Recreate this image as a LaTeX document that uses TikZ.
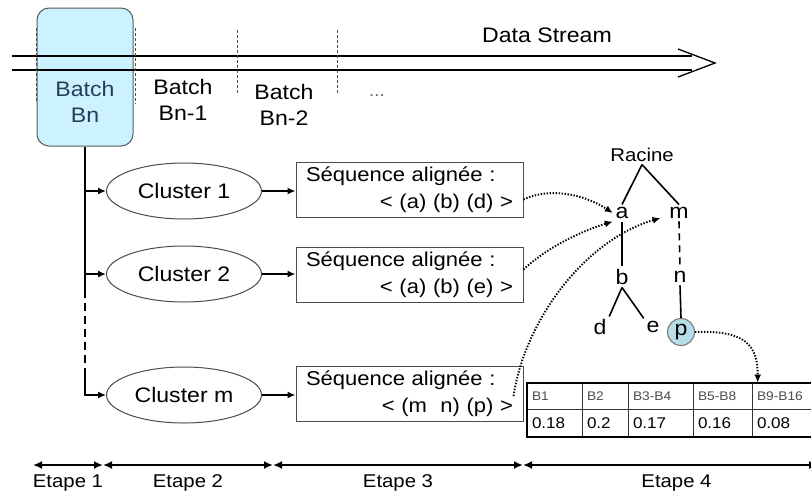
\documentclass[tikz,border=0pt]{standalone}
\usepackage{fontspec}
\setmainfont{Liberation Sans}[FakeStretch=1.1]
\usetikzlibrary{shapes.geometric,arrows.meta,positioning}
\definecolor{batchfill}{RGB}{204,242,255}
\definecolor{batchtext}{RGB}{38,62,92}
\definecolor{pfill}{RGB}{183,222,232}

\begin{document}
\begin{tikzpicture}[x=1pt,y=-1pt,line width=1.6pt,
  txt/.style={font=\fontsize{21}{26}\selectfont,align=center,inner sep=0pt},
  batchbox/.style={draw=black!65,line width=1pt,rounded corners=12pt,fill=batchfill,minimum width=96pt,minimum height=138pt},
  sep/.style={line width=0.7pt,black!70,dash pattern=on 3pt off 2pt},
  clus/.style={draw=black!70,line width=1pt,ellipse,minimum width=155pt,minimum height=56pt,font=\fontsize{21}{24}\selectfont},
  seqbox/.style={draw=black!70,line width=1pt,text width=207pt,minimum height=55pt,inner xsep=10pt,inner ysep=3pt,font=\fontsize{20}{27}\selectfont},
  leaf/.style={font=\fontsize{21}{24}\selectfont,inner sep=2pt},
  pnode/.style={circle,draw=black!55,line width=1pt,fill=pfill,minimum size=27pt,inner sep=0pt,font=\fontsize{21}{24}\selectfont},
  arr/.style={-{Latex[length=8pt,width=7pt]}},
  link/.style={line width=1.9pt,dash pattern=on 1.4pt off 1.6pt,-{Latex[length=8pt,width=7pt]}},
  hcell/.style={draw=black!80,line width=0.7pt,minimum height=26pt,inner xsep=5pt,inner ysep=0pt,font=\fontsize{12.5}{14}\selectfont,text=black!70},
  vcell/.style={draw=black!80,line width=0.7pt,minimum height=28pt,inner xsep=5pt,inner ysep=0pt,font=\fontsize{15.5}{18}\selectfont},
  stage/.style={line width=1.8pt,{Latex[length=9pt,width=8pt]}-{Latex[length=9pt,width=8pt]}},
  etape/.style={below=9pt,font=\fontsize{18.5}{22}\selectfont,inner sep=0pt}]
\useasboundingbox (0,0) rectangle (811,496);
\clip (0,0) rectangle (811,496);

% data stream
\node[batchbox] (bn) at (85,77) {};
\node[txt,text=batchtext] (bntxt) at (85,102) {Batch\\Bn};
\node[txt] (bn1) at (183,100) {Batch\\Bn-1};
\node[txt] (bn2) at (284,105) {Batch\\Bn-2};
\node[txt,font=\fontsize{17}{20}\selectfont,text=black!60] (dots) at (377,96) {...};
\node[txt] (stream) at (547,35) {Data Stream};
\draw[line width=1.3pt] (12,56) -- (692,56) (12,70) -- (692,70);
\draw[line width=1.3pt,line join=miter] (678,49) -- (715,63) -- (678,77);
\draw[sep] (36,28) -- (36,103);
\draw[sep] (135,28) -- (135,104);
\draw[sep] (237,30) -- (237,95);
\draw[sep] (337,30) -- (337,93);

% clusters
\node[clus] (c1) at (184,191) {Cluster 1};
\node[clus] (c2) at (184,274) {Cluster 2};
\node[clus] (c3) at (184,395) {Cluster m};
\node[seqbox] (s1) at (409.5,189.5) {Séquence alignée :\\\hspace*{\fill}< (a) (b) (d) >};
\node[seqbox] (s2) at (409.5,274.5) {Séquence alignée :\\\hspace*{\fill}< (a) (b) (e) >};
\node[seqbox] (s3) at (409.5,394) {Séquence alignée :\\\hspace*{\fill}< (m\ \ n) (p) >};
\coordinate (tA) at (85,290);
\coordinate (tB) at (85,370);
\draw (bn.south) -- (tA);
\draw[dash pattern=on 8pt off 5pt] (tA) -- (tB);
\draw[arr] (tB) |- (c3.west);
\draw[arr] (bn.south |- c1.west) -- (c1.west);
\draw[arr] (bn.south |- c2.west) -- (c2.west);
\draw[arr] (c1.east) -- (s1.west |- c1.east);
\draw[arr] (c2.east) -- (s2.west |- c2.east);
\draw[arr] (c3.east) -- (s3.west |- c3.east);

% tree
\node[leaf,font=\fontsize{18.5}{22}\selectfont] (root) at (642,155) {Racine};
\node[leaf] (na) at (622,213) {a};
\node[leaf] (nm) at (679,213) {m};
\node[leaf] (nb) at (622,277) {b};
\node[leaf] (nn) at (680,277) {n};
\node[leaf] (nd) at (600,327) {d};
\node[leaf] (ne) at (653,327) {e};
\node[pnode] (np) at (681,332) {p};
\draw (root.south) -- (na.north);
\draw (root.south) -- (nm.north);
\draw (na.south) -- (nb.north);
\draw[dash pattern=on 7pt off 5pt] (nm.south) -- (nn.north);
\draw (nb.south) -- (nd.north east);
\draw (nb.south) -- (ne.north west);
\draw (nn.south) -- (np.north);

% table
\foreach \xl/\xr/\hd/\vl [count=\i] in {527/582/B1/0.18,582/628/B2/0.2,628/693/B3-B4/0.17,693/752/B5-B8/0.16,752/815/B9-B16/0.08}{
  \pgfmathsetmacro\cw{\xr-\xl-10}
  \node[hcell,text width=\cw pt] (h\i) at ({(\xl+\xr)/2},396) {\hd};
  \node[vcell,text width=\cw pt] (v\i) at ({(\xl+\xr)/2},423) {\vl};
}
\draw[line width=2.2pt] (h1.north west) rectangle (v5.south east);

% links
\draw[link] ([yshift=-10pt]s1.east) .. controls (555,185) and (590,198) .. (na.west);
\draw[link] ([yshift=5pt]s2.east) .. controls (550,245) and (585,230) .. (na.south west);
\draw[link] ([xshift=-10pt,yshift=-2pt]s3.east) .. controls (525,320) and (585,240) .. ([xshift=-6pt,yshift=-5pt]nm.west);
\draw[link] (np.east) .. controls (745,330) and (758,345) .. ([xshift=6pt]h5.north west);

% stages
\coordinate (e0) at (33,465);
\coordinate (e1) at (103,465);
\coordinate (e2) at (273,465);
\coordinate (e3) at (523,465);
\coordinate (e4) at (818,465);
\draw[stage] (e0) -- node[etape] (l1) {Etape 1} (e1);
\draw[stage] (e1) -- node[etape] (l2) {Etape 2} (e2);
\draw[stage] (e2) -- node[etape] (l3) {Etape 3} (e3);
\draw[stage] (e3) -- node[etape,xshift=6pt] (l4) {Etape 4} (e4);
\end{tikzpicture}
\end{document}
